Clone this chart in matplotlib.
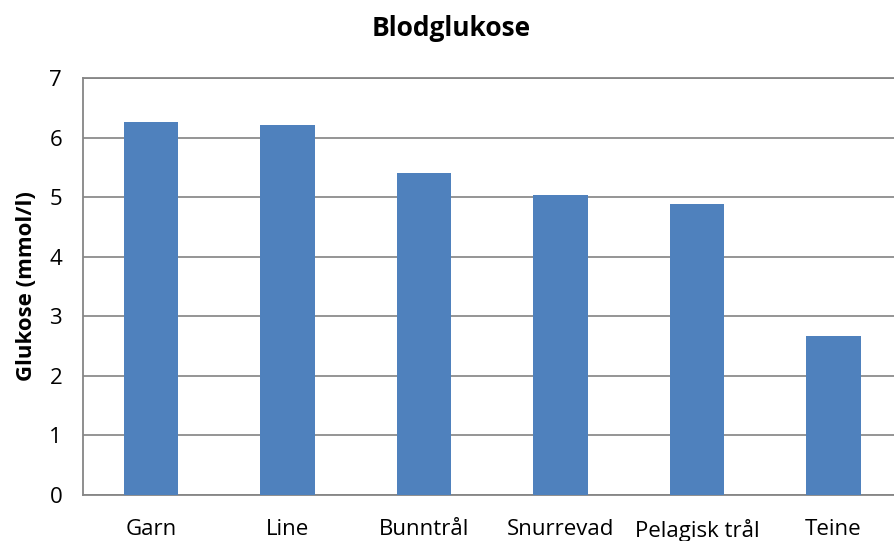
import matplotlib.pyplot as plt

categories = ['Garn', 'Line', 'Bunntrål', 'Snurrevad', 'Pelagisk trål', 'Teine']
glukose = [6.26, 6.21, 5.41, 5.04, 4.89, 2.67]
y_ticks = [0, 1, 2, 3, 4, 5, 6, 7]

plt.rcParams['font.family'] = ['Open Sans', 'DejaVu Sans']

fig = plt.figure(figsize=(8.94, 5.41), dpi=100)
# plot area runs past the right edge of the picture, like the original
ax = fig.add_axes([83 / 894, 46 / 541, 818.5 / 894, 417 / 541])

ax.bar(range(len(categories)), glukose, width=0.4, color='#4F81BD', zorder=3)

ax.set_xlim(-0.5, 5.5)
ax.set_ylim(0, 7)
ax.set_yticks(y_ticks)
ax.set_xticks(range(len(categories)))
ax.set_xticklabels(categories, fontsize=16)
ax.tick_params(axis='y', labelsize=16, length=0, pad=15)
ax.tick_params(axis='x', length=0, pad=17)

ax.grid(axis='y', color='#8c8c8c', linewidth=1.3, zorder=0)
for s in ['left', 'bottom', 'top']:
    ax.spines[s].set_color('#868686')
    ax.spines[s].set_linewidth(1.3)
ax.spines['right'].set_visible(False)

ax.set_ylabel('Glukose (mmol/l)', fontsize=16, fontweight='bold', labelpad=9)
fig.text(451 / 894, 1 - 28 / 541, 'Blodglukose', fontsize=19, fontweight='bold',
         ha='center', va='center')

fig.savefig('out.png', dpi=100)
